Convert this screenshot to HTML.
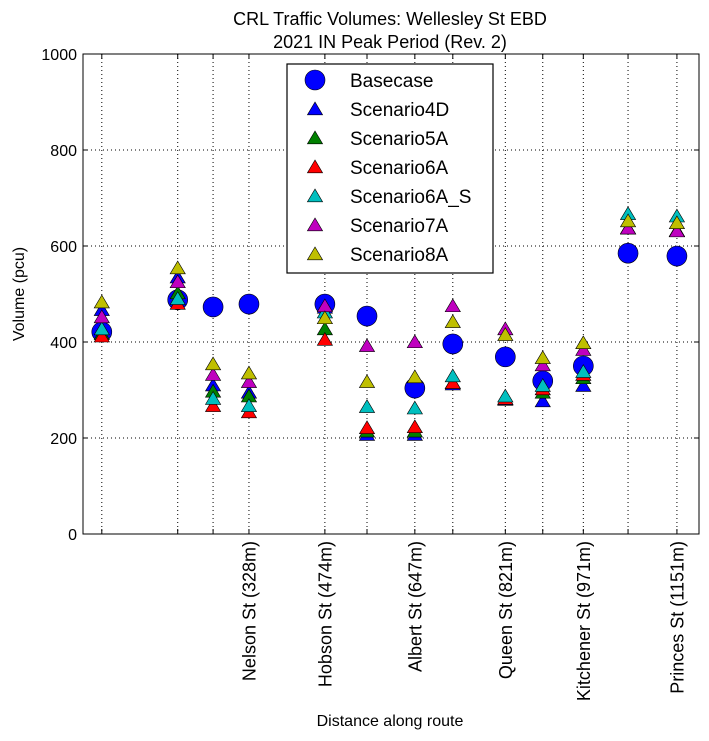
<!DOCTYPE html>
<html><head><meta charset="utf-8"><style>
html,body{margin:0;padding:0;background:#fff;}
svg{display:block;font-family:"Liberation Sans",sans-serif;}
</style></head><body>
<svg id="chart" width="709" height="741" viewBox="0 0 709 741">
<text x="390" y="25" font-size="18" text-anchor="middle">CRL Traffic Volumes: Wellesley St EBD</text>
<text x="390" y="48" font-size="18" text-anchor="middle">2021 IN Peak Period (Rev. 2)</text>
<text x="390" y="726" font-size="16" text-anchor="middle">Distance along route</text>
<text transform="translate(24,294) rotate(-90)" font-size="16" text-anchor="middle">Volume (pcu)</text>
<g id="grid"></g><g id="marks"></g><g id="axes"></g><g id="legend"></g>
</svg>
<script>
const distances=[45,191,259,328,474,555,647,720,821,893,971,1057,1151];
const tickLabels=["","","","Nelson St (328m)","Hobson St (474m)","","Albert St (647m)","","Queen St (821m)","","Kitchener St (971m)","","Princes St (1151m)"];
const yTicks=[0,200,400,600,800,1000];
const seriesNames=["Basecase","Scenario4D","Scenario5A","Scenario6A","Scenario6A_S","Scenario7A","Scenario8A"];
const seriesColors=["#0000ff","#0000ff","#008000","#ff0000","#00bfbf","#bf00bf","#bfbf00"];
const basecase=[421,488,473,479,479,454,304,396,369,319,350,585,579];
const scenario4D=[465,533,308,293,470,205,205,310,278,275,307,635,630];
const scenario5A=[415,500,295,285,425,212,212,313,280,293,323,635,630];
const scenario6A=[410,478,265,252,403,219,221,313,280,300,330,635,630];
const scenario6A_S=[425,488,280,265,460,263,260,327,285,307,336,665,660];
const scenario7A=[450,523,330,315,473,390,398,473,425,350,382,635,629];
const scenario8A=[481,552,352,333,448,315,325,440,413,365,396,650,646];
const seriesData=[basecase,scenario4D,scenario5A,scenario6A,scenario6A_S,scenario7A,scenario8A];
const NS="http://www.w3.org/2000/svg";
const L=83,R=699,T=54,B=534;
const xs=d=>78.4+0.52*d;
const ys=v=>B-(v/1000)*(B-T);
function mk(tag,attrs,parent){const e=document.createElementNS(NS,tag);for(const k in attrs)e.setAttribute(k,attrs[k]);parent.appendChild(e);return e;}
const grid=document.getElementById('grid'),marks=document.getElementById('marks'),axes=document.getElementById('axes'),legend=document.getElementById('legend');
distances.forEach((d,i)=>{
  const x=xs(d);
  const g=mk('line',{x1:x,x2:x,y1:T,y2:B,stroke:'#000','stroke-width':1,'stroke-dasharray':'1,3'},grid);
  
  
  mk('line',{x1:x,x2:x,y1:B,y2:B-5,stroke:'#000'},axes);
  mk('line',{x1:x,x2:x,y1:T,y2:T+5,stroke:'#000'},axes);
  if(tickLabels[i]){
    const t=mk('text',{transform:`translate(${x+6.5},${B+7}) rotate(-90)`,'font-size':18,'text-anchor':'end'},axes);
    t.textContent=tickLabels[i];
    
    
  }
});
yTicks.forEach(v=>{
  const y=ys(v);
  if(v>0&&v<1000){const g=mk('line',{x1:L,x2:R,y1:y,y2:y,stroke:'#000','stroke-width':1,'stroke-dasharray':'1,3'},grid);
  
  }
  mk('line',{x1:L,x2:L+5,y1:y,y2:y,stroke:'#000'},axes);
  mk('line',{x1:R,x2:R-5,y1:y,y2:y,stroke:'#000'},axes);
  const t=mk('text',{x:L-6,y:y+6,'font-size':16,'text-anchor':'end'},axes);
  t.textContent=v;
  
  
});
const frame=mk('rect',{x:L,y:T,width:R-L,height:B-T,fill:'none',stroke:'#000','stroke-width':1},axes);


function tri(cx,cy,s){return `${cx},${cy-s} ${cx-s*0.95},${cy+s*0.6} ${cx+s*0.95},${cy+s*0.6}`;}
seriesData.forEach((arr,si)=>{
  arr.forEach((v,i)=>{
    const cx=xs(distances[i]),cy=ys(v);
    let m;
    if(si===0){m=mk('circle',{cx:cx,cy:cy,r:10,fill:seriesColors[0],stroke:'#000','stroke-width':0.6},marks);}
    else{m=mk('polygon',{points:tri(cx,cy,8),fill:seriesColors[si],stroke:'#000','stroke-width':0.6},marks);}
    
    
  });
});
const lb=mk('rect',{x:287,y:64,width:206,height:209,fill:'#fff',stroke:'#000','stroke-width':1.2},legend);


seriesNames.forEach((n,si)=>{
  const y=80+si*29;
  let m;
  if(si===0)m=mk('circle',{cx:315,cy:y,r:10,fill:seriesColors[0],stroke:'#000','stroke-width':0.6},legend);
  else m=mk('polygon',{points:tri(315,y+1,8),fill:seriesColors[si],stroke:'#000','stroke-width':0.6},legend);
  
  
  const t=mk('text',{x:350,y:y+7,'font-size':19},legend);
  t.textContent=n;
  
  
});
</script>
</body></html>
